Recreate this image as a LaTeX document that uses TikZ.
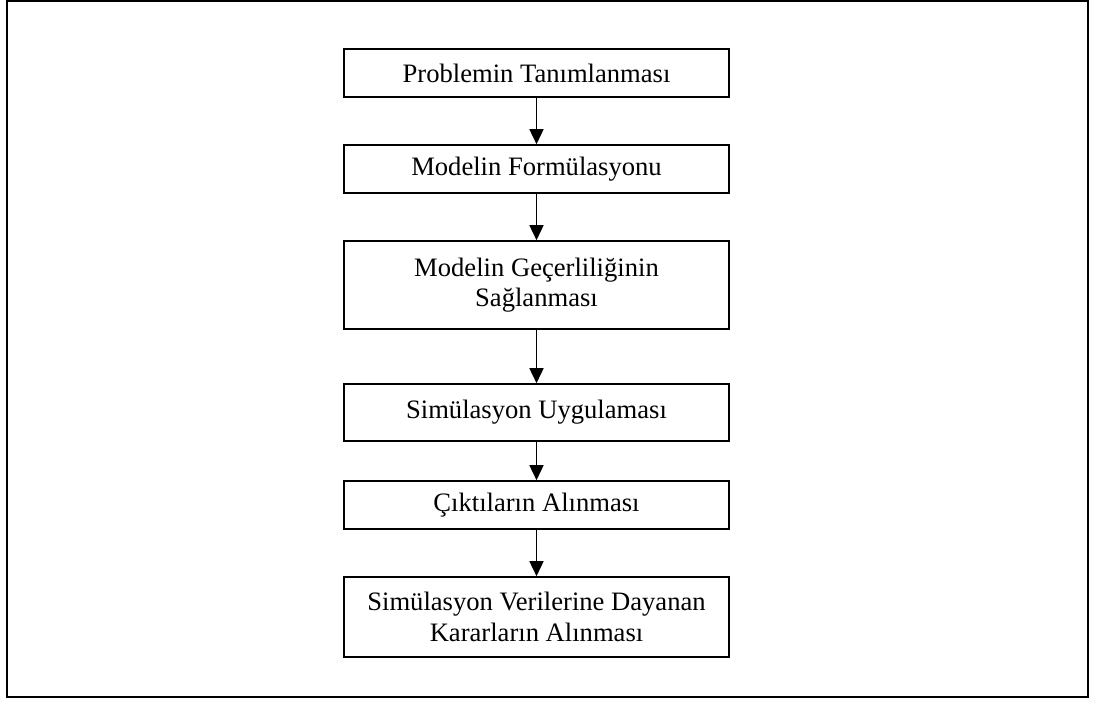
\documentclass[tikz,border=0pt]{standalone}
\usepackage{fontspec}
\setmainfont{Liberation Serif}
\usetikzlibrary{arrows.meta}
\begin{document}
\begin{tikzpicture}[x=1pt,y=-1pt,
  stepbox/.style={draw,line width=1.6pt,rectangle,minimum width=385pt,
    inner sep=0pt,align=center,font=\fontsize{26.6}{30.5}\selectfont},
  flow/.style={line width=1.6pt,-{Triangle[width=14pt,length=15pt]}}]
  \useasboundingbox (0,0) rectangle (1094,702);
  % outer frame
  \draw[line width=2.2pt] (7,1) rectangle (1088,697);
  % process steps
  \node[stepbox,minimum height=48pt] (s1) at (536.5,73) {Problemin Tanımlanması};
  \node[stepbox,minimum height=48pt] (s2) at (536.5,169) {Modelin Formülasyonu};
  \node[stepbox,minimum height=88pt] (s3) at (536.5,285) {Modelin Geçerliliğinin\\Sağlanması};
  \node[stepbox,minimum height=57pt] (s4) at (536.5,412.5) {Simülasyon Uygulaması};
  \node[stepbox,minimum height=48pt] (s5) at (536.5,505) {Çıktıların Alınması};
  \node[stepbox,minimum height=80pt] (s6) at (536.5,617) {Simülasyon Verilerine Dayanan\\Kararların Alınması};
  % connectors
  \draw[flow] (s1) -- (s2);
  \draw[flow] (s2) -- (s3);
  \draw[flow] (s3) -- (s4);
  \draw[flow] (s4) -- (s5);
  \draw[flow] (s5) -- (s6);
\end{tikzpicture}
\end{document}
